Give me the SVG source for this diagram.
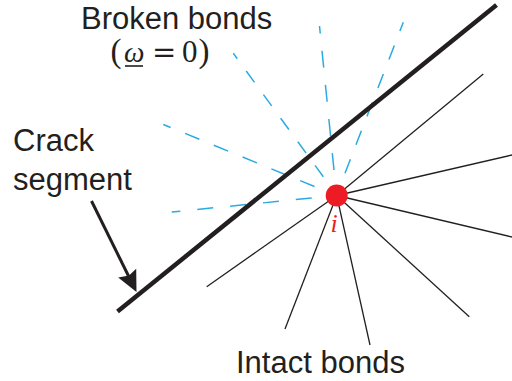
<svg xmlns="http://www.w3.org/2000/svg" width="512" height="381" viewBox="0 0 512 381">
<style>
.lbl{font-family:"Liberation Sans",Arial,sans-serif;font-size:31px;fill:#231f20}
.math{font-family:"Liberation Serif","Times New Roman",serif;font-size:31px;fill:#231f20}
.intact{stroke:#231f20;stroke-width:1.3;fill:none}
.broken{stroke:#29abe2;stroke-width:1.5;fill:none}
</style>
<rect width="512" height="381" fill="#ffffff"/>
<g id="connectors">
  <g id="broken-bonds">
    <path class="broken" d="M311.7,198 L171.7,212" stroke-dasharray="16 17"/>
    <path class="broken" d="M314.5,186.5 L163.3,124.5" stroke-dasharray="15.5 15.6"/>
    <path class="broken" d="M323.3,176.7 L233.3,53.3" stroke-dasharray="14 15.2"/>
    <path class="broken" d="M334,170 L319.5,26" stroke-dasharray="17 17.3"/>
    <path class="broken" d="M345,173.3 L403.3,22.3" stroke-dasharray="15 15.5"/>
  </g>
  <g id="intact-bonds">
    <path class="intact" d="M336.7,195.5 L483.3,74"/>
    <path class="intact" d="M336.7,195.5 L512,155"/>
    <path class="intact" d="M336.7,195.5 L512,237"/>
    <path class="intact" d="M336.7,195.5 L469.3,316.7"/>
    <path class="intact" d="M336.7,195.5 L370,345"/>
    <path class="intact" d="M336.7,195.5 L285,329"/>
    <path class="intact" d="M336.7,195.5 L206.7,286.7"/>
  </g>
  <g id="crack-arrow">
    <path d="M91.5,201 L129,277" stroke="#231f20" stroke-width="3" fill="none"/>
    <polygon points="136.5,292 118.2,277.6 129,275.5 136.2,268.8" fill="#231f20"/>
  </g>
</g>
<g id="crack-segment">
  <path d="M117.5,311.5 L496.5,5" stroke="#231f20" stroke-width="4.5" fill="none"/>
</g>
<g id="node-i">
  <circle cx="336.7" cy="195.5" r="11" fill="#ed1c24"/>
  <text x="334" y="232" font-family="Liberation Serif,'Times New Roman',serif" font-style="italic" font-size="26" fill="#ed1c24" text-anchor="middle">i</text>
</g>
<g id="label-broken">
  <text class="lbl" x="81" y="29">Broken bonds</text>
  <text class="math" y="62"><tspan x="110.5" font-size="33">(</tspan><tspan x="124" font-style="italic" font-size="29">ω</tspan><tspan x="152" font-family="DejaVu Serif,serif" font-size="29">=</tspan><tspan x="182">0</tspan><tspan x="198.5" font-size="33">)</tspan></text>
  <line x1="125" y1="66" x2="143" y2="66" stroke="#231f20" stroke-width="1.6"/>
</g>
<g id="label-crack">
  <text class="lbl" x="13" y="151">Crack</text>
  <text class="lbl" x="13" y="190">segment</text>
</g>
<g id="label-intact">
  <text class="lbl" x="236" y="373">Intact bonds</text>
</g>
</svg>
